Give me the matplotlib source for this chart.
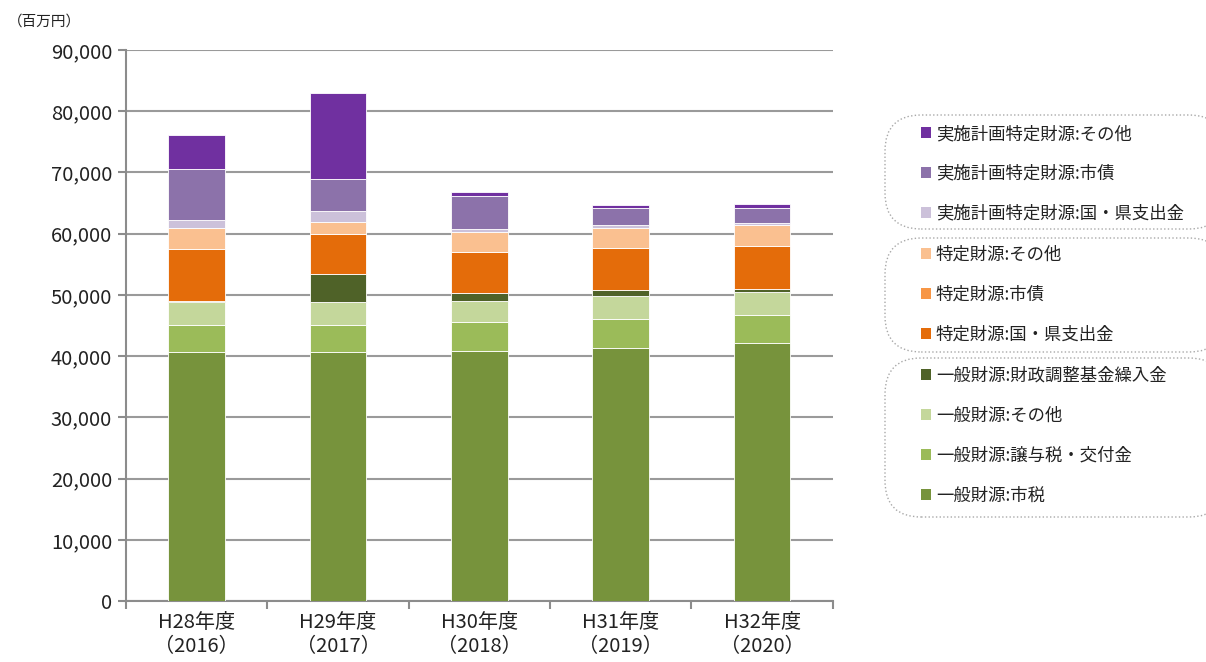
import numpy as np
import matplotlib.pyplot as plt
from matplotlib.ticker import FuncFormatter
from matplotlib.patches import Patch, FancyBboxPatch

plt.rcParams['font.family'] = ['Noto Sans CJK JP', 'DejaVu Sans']

years = ['H28年度\n（2016）', 'H29年度\n（2017）', 'H30年度\n（2018）', 'H31年度\n（2019）', 'H32年度\n（2020）']

# bottom -> top of the stack (百万円)
ippan_shizei = [40740, 40740, 40900, 41390, 42210]
ippan_joyo = [4360, 4360, 4740, 4740, 4570]
ippan_sonota = [3760, 3760, 3430, 3660, 3710]
ippan_kikin = [210, 4570, 1210, 980, 490]
tokutei_kuni = [8430, 6540, 6800, 6960, 7030]
tokutei_shisai = [0, 0, 0, 0, 0]
tokutei_sonota = [3500, 1960, 3160, 3270, 3430]
jisshi_kuni = [1250, 1750, 540, 440, 270]
jisshi_shisai = [8290, 5320, 5350, 2780, 2510]
jisshi_sonota = [5560, 13950, 650, 440, 650]

series = [
    ('一般財源:市税', ippan_shizei, '#77933C'),
    ('一般財源:譲与税・交付金', ippan_joyo, '#9BBB59'),
    ('一般財源:その他', ippan_sonota, '#C4D79B'),
    ('一般財源:財政調整基金繰入金', ippan_kikin, '#4F6228'),
    ('特定財源:国・県支出金', tokutei_kuni, '#E46C0A'),
    ('特定財源:市債', tokutei_shisai, '#F79646'),
    ('特定財源:その他', tokutei_sonota, '#FAC090'),
    ('実施計画特定財源:国・県支出金', jisshi_kuni, '#CCC1DA'),
    ('実施計画特定財源:市債', jisshi_shisai, '#8C72AA'),
    ('実施計画特定財源:その他', jisshi_sonota, '#7030A0'),
]

W, H = 1206, 662
fig = plt.figure(figsize=(W / 100, H / 100), dpi=100)
ax = fig.add_axes([0.1045, 0.0921, 0.586, 0.8324])

x = np.arange(len(years))
bottom = np.zeros(len(years))
handles = {}
for name, vals, col in series:
    ax.bar(x, vals, 0.4, bottom=bottom, color=col, edgecolor='white', linewidth=0.6, zorder=3)
    handles[name] = Patch(facecolor=col, edgecolor='none')
    bottom += np.array(vals)

ax.set_ylim(0, 90000)
ax.set_xlim(-0.5, len(years) - 0.5)
ax.set_yticks(np.arange(0, 90001, 10000))
ax.yaxis.set_major_formatter(FuncFormatter(lambda v, p: f'{int(v):,}'))
ax.set_xticks(x)
ax.set_xticklabels(years)
ax.set_xticks(np.arange(-0.5, len(years), 1), minor=True)
ax.tick_params(axis='x', which='major', length=0, pad=8, labelsize=14.5, colors='#222222')
ax.tick_params(axis='x', which='minor', length=6, width=1.5, color='#8c8c8c')
ax.tick_params(axis='y', length=6, width=1.5, color='#8c8c8c', labelsize=14.5, labelcolor='#222222', pad=4)
ax.grid(axis='y', color='#9a9a9a', linewidth=1.5, zorder=0)
for s in ['top', 'right']:
    ax.spines[s].set_visible(False)
for s in ['left', 'bottom']:
    ax.spines[s].set_color('#8c8c8c')
    ax.spines[s].set_linewidth(1.5)

fig.text(8 / W, 1 - 22 / H, '（百万円）', fontsize=10.5, color='#222222', va='center')

# legend groups: names, box top/bottom (px), first row centre (px)
groups = [
    (['実施計画特定財源:その他', '実施計画特定財源:市債', '実施計画特定財源:国・県支出金'], 115, 229, 132),
    (['特定財源:その他', '特定財源:市債', '特定財源:国・県支出金'], 238, 352, 253),
    (['一般財源:財政調整基金繰入金', '一般財源:その他', '一般財源:譲与税・交付金', '一般財源:市税'], 358, 517, 374),
]
for names, top, bot, row0 in groups:
    box = FancyBboxPatch((885 / W, 1 - bot / H), 340 / W, (bot - top) / H,
                         boxstyle='round,pad=0,rounding_size=0.03',
                         transform=fig.transFigure, facecolor='white',
                         edgecolor='#a8a8a8', linestyle=':', linewidth=1.0,
                         mutation_aspect=W / H)
    fig.add_artist(box)
    leg = fig.legend([handles[n] for n in names], names, loc='upper left',
                     bbox_to_anchor=(921 / W, 1 - (row0 - 7) / H), fontsize=12.5,
                     frameon=False, handlelength=0.6, handleheight=0.6,
                     handletextpad=0.25, labelspacing=1.26, borderpad=0,
                     borderaxespad=0)
    for t in leg.get_texts():
        t.set_color('#222222')

fig.savefig('out.png', dpi=100)
